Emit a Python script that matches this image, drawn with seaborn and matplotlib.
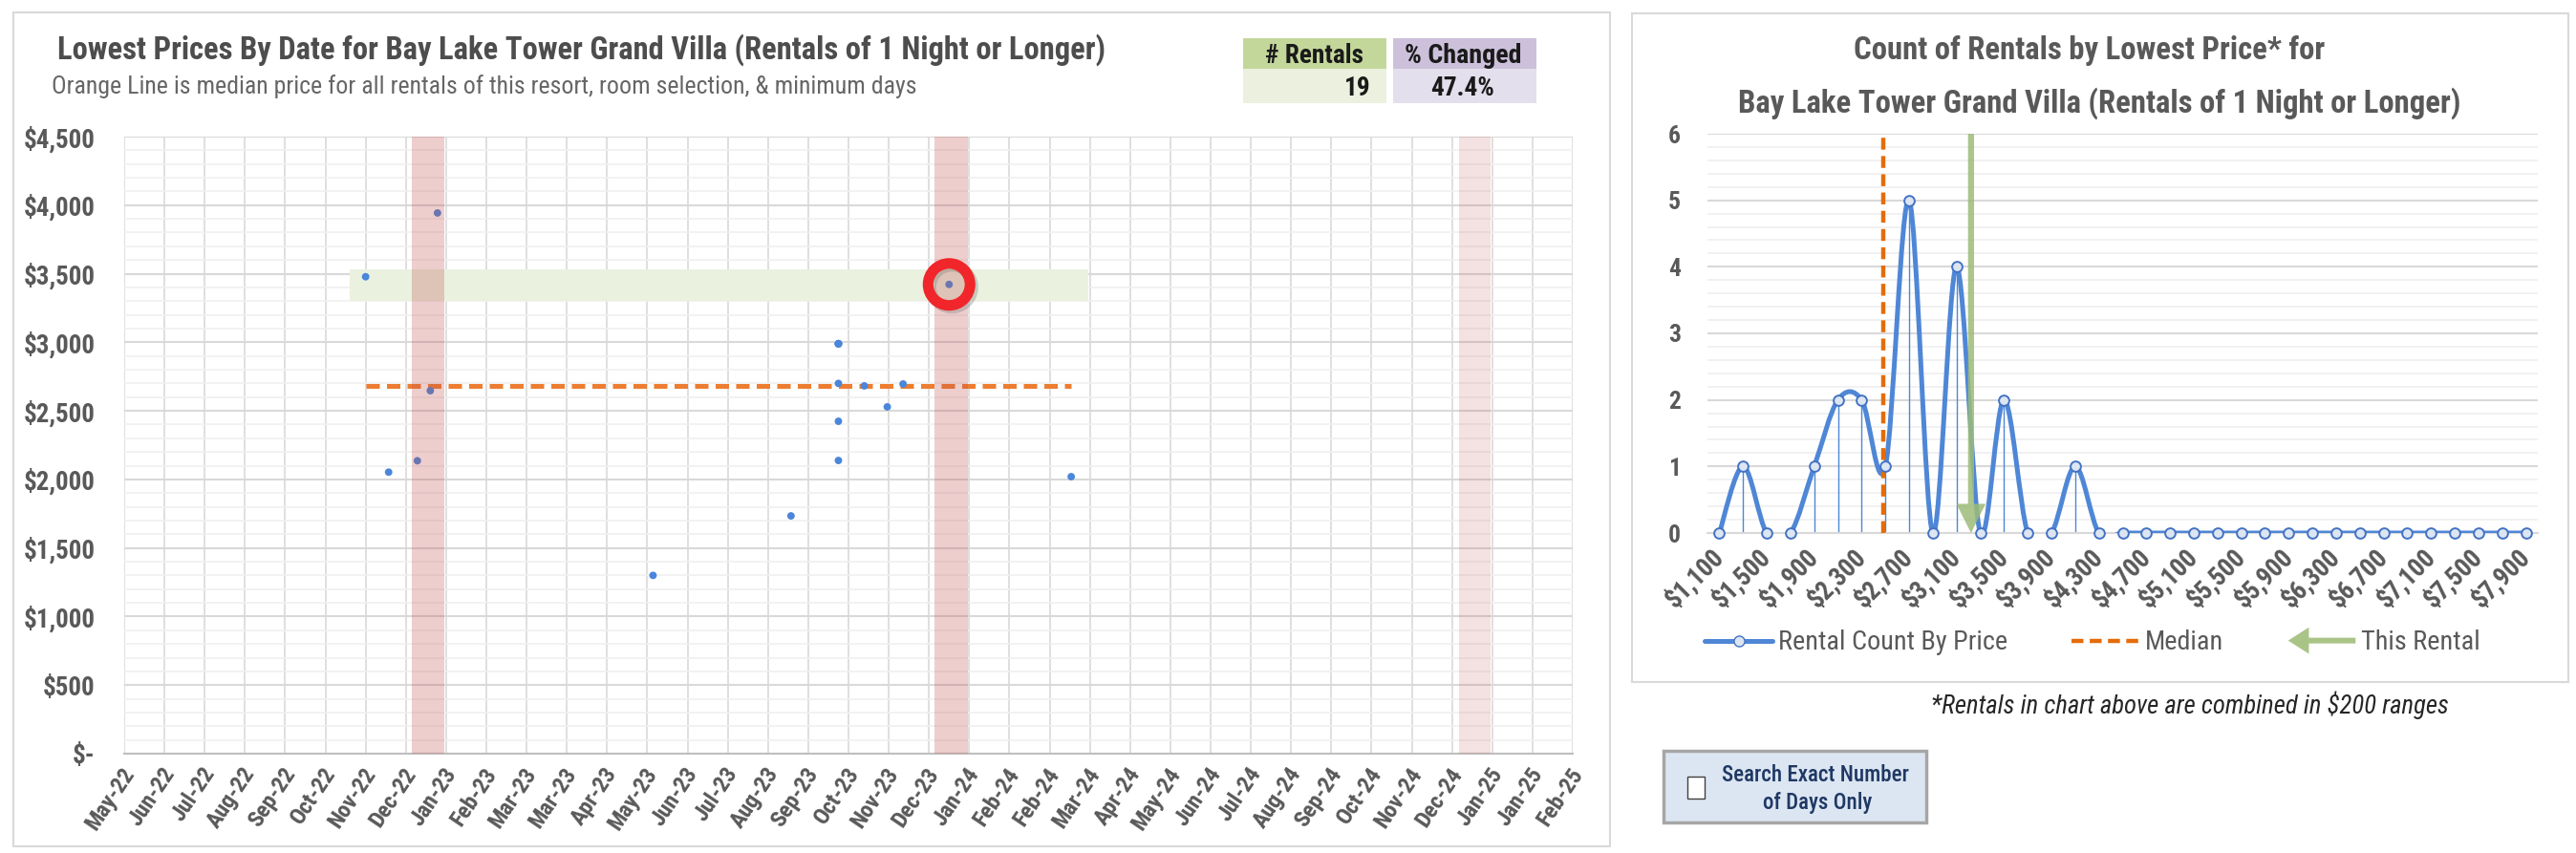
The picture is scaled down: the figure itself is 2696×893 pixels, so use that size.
import numpy as np
import pandas as pd
import seaborn as sns
import matplotlib.pyplot as plt
import matplotlib.patches as mpatches
from matplotlib import font_manager, ticker
from matplotlib.path import Path
from matplotlib.lines import Line2D
from matplotlib.legend_handler import HandlerPatch
from matplotlib.transforms import offset_copy, ScaledTranslation

W, H = 2696, 893

# ---- values ----
rental_dates = ['2022-11-10', '2022-11-26', '2022-12-16', '2022-12-25', '2022-12-30',
                '2023-05-29', '2023-09-02', '2023-10-05', '2023-10-05', '2023-10-05',
                '2023-10-05', '2023-10-05', '2023-10-05', '2023-10-05', '2023-10-23',
                '2023-11-08', '2023-11-19', '2023-12-21', '2024-03-15']
rental_prices = [3478, 2053, 2136, 2647, 3943,
                 1300, 1734, 2988, 2990, 2990,
                 2990, 2700, 2424, 2138, 2682,
                 2529, 2696, 3422, 2020]
this_rental_date = '2023-12-21'
this_rental_price = 3422
pct_changed = '47.4%'
holiday_bands = [('2022-12-12', '2023-01-04'), ('2023-12-11', '2024-01-03'), ('2024-12-10', '2025-01-01')]
holiday_alpha = [0.28, 0.28, 0.17]
axis_start, axis_end = '2022-05-26', '2025-02-27'   # Excel date axis, major unit 28 days
price_bins = list(range(1100, 8000, 200))             # $200 ranges, labelled by upper bound

df = pd.DataFrame({'date': pd.to_datetime(rental_dates), 'price': rental_prices})
counts = [int(((df.price > b - 200) & (df.price <= b)).sum()) for b in price_bins]
median_price = float(np.median(rental_prices))

# ---- style ----
sns.set_theme(style='white')
installed = {f.name for f in font_manager.fontManager.ttflist}
narrow = next((f for f in ['Liberation Sans Narrow', 'Roboto Condensed', 'Open Sans Condensed',
                           'Liberation Sans'] if f in installed), 'DejaVu Sans')
plt.rcParams['font.family'] = [narrow, 'DejaVu Sans']

GRAY = '#595959'
BLUE = '#4F87D6'

fig = plt.figure(figsize=(W / 100, H / 100), dpi=100)
renderer = fig.canvas.get_renderer()


def frect(x0, y0, x1, y1, **kw):
    r = mpatches.Rectangle((x0 / W, 1 - y1 / H), (x1 - x0) / W, (y1 - y0) / H,
                           transform=fig.transFigure, **kw)
    fig.add_artist(r)
    return r


def size_for(s, width, **kw):
    t = fig.text(0, 0, s, fontsize=20, **kw)
    w = t.get_window_extent(renderer).width
    t.remove()
    return 20 * width / w


def fit_text(x, y, s, width, ha='left', size=None, **kw):
    fs = size if size else size_for(s, width, **kw)
    return fig.text(x / W, 1 - y / H, s, ha=ha, va='center', fontsize=fs, **kw)


# panel frames
frect(14, 13, 1685, 886, fill=False, ec='#D9D9D9', lw=1.5)
frect(1708, 14, 2688, 714, fill=False, ec='#D9D9D9', lw=1.5)

# ---------------- left chart ----------------
axL = fig.add_axes([130 / W, 1 - 789 / H, (1646 - 130) / W, (789 - 143) / H])
sns.scatterplot(data=df, x='date', y='price', ax=axL, color='#4A86DA', s=32,
                edgecolor='none', zorder=4, legend=False)

d0, d1 = df.date.min(), df.date.max()
axL.fill_between([d0 - pd.Timedelta(days=11), d1 + pd.Timedelta(days=12)],
                 this_rental_price * 0.965, this_rental_price * 1.032,
                 color='#EAF1DF', lw=0, zorder=1)
axL.hlines(median_price, d0, d1, colors='#ED7D31', linestyles=(0, (2.8, 1.5)), lw=3.6, zorder=3)
for (a, b), al in zip(holiday_bands, holiday_alpha):
    axL.axvspan(pd.Timestamp(a), pd.Timestamp(b), color='#C0504D', alpha=al, lw=0, zorder=5)

tr = pd.Timestamp(this_rental_date)
shadow = offset_copy(axL.transData, fig=fig, x=3, y=-3, units='dots')
axL.scatter([tr], [this_rental_price], s=1000, facecolors='none', edgecolors='#7F7F7F',
            linewidths=8, alpha=0.35, transform=shadow, zorder=6)
axL.scatter([tr], [this_rental_price], s=1000, facecolors='none', edgecolors='#F0262A',
            linewidths=8, zorder=7)

ticks = pd.date_range(axis_start, axis_end, freq='28D')
axL.set_xticks(ticks)
axL.set_xticklabels([d.strftime('%b-%y') for d in ticks])
axL.set_xlim(ticks[0], ticks[-1])
axL.set_ylim(0, 4500)
axL.yaxis.set_major_locator(ticker.MultipleLocator(500))
axL.yaxis.set_minor_locator(ticker.MultipleLocator(100))
axL.yaxis.set_major_formatter(ticker.FuncFormatter(lambda v, p: '$-' if v == 0 else f'${v:,.0f}'))
axL.grid(axis='x', which='major', color='#D9D9D9', lw=1.2, zorder=0)
axL.grid(axis='y', which='major', color='#D9D9D9', lw=1.5, zorder=0)
axL.grid(axis='y', which='minor', color='#F0F0F0', lw=1.2, zorder=0)
axL.set_axisbelow(True)
for s in ['top', 'right', 'left']:
    axL.spines[s].set_visible(False)
axL.spines['bottom'].set_color('#BFBFBF')
axL.spines['bottom'].set_linewidth(1.5)
axL.tick_params(axis='y', which='both', length=0, pad=22,
                labelsize=size_for('$4,500', 75, weight='bold'), labelcolor=GRAY)
axL.tick_params(axis='x', which='both', length=0, pad=12,
                labelsize=size_for('Sep-22', 69, weight='bold'), labelcolor=GRAY)
nudge = ScaledTranslation(6 / 100, 0, fig.dpi_scale_trans)
for lab in axL.get_xticklabels():
    lab.set_rotation(56)
    lab.set_ha('right')
    lab.set_rotation_mode('anchor')
    lab.set_va('center')
    lab.set_fontweight('bold')
    lab.set_transform(lab.get_transform() + nudge)
for lab in axL.get_yticklabels():
    lab.set_fontweight('bold')
axL.set_xlabel('')
axL.set_ylabel('')

fit_text(60, 52, 'Lowest Prices By Date for Bay Lake Tower Grand Villa (Rentals of 1 Night or Longer)',
         1097, weight='bold', color='#4D4D4D')
fit_text(54, 91, 'Orange Line is median price for all rentals of this resort, room selection, & minimum days',
         905, color='#666666')

# summary table
frect(1301, 40, 1451, 72, color='#C4D79B', lw=0)
frect(1458, 40, 1608, 72, color='#CCC0DA', lw=0)
frect(1301, 72, 1451, 108, color='#EBF1DE', lw=0)
frect(1458, 72, 1608, 108, color='#E4DFEC', lw=0)
fit_text(1376, 58, '# Rentals', 103, ha='center', weight='bold', color='#1A1A1A')
fit_text(1531, 58, '% Changed', 122, ha='center', weight='bold', color='#1A1A1A')
val = fit_text(1531, 92, pct_changed, 67, ha='center', weight='bold', color='#1A1A1A')
fit_text(1435, 92, str(len(rental_prices)), 0, ha='right', size=val.get_fontsize(),
         weight='bold', color='#1A1A1A')

# ---------------- right chart ----------------
axR = fig.add_axes([1787 / W, 1 - 558 / H, (2656 - 1787) / W, (558 - 140) / H])


def smooth_path(xs, ys):
    # Excel-style smoothed line: Catmull-Rom segments as cubic Beziers
    pts = np.column_stack([xs, ys]).astype(float)
    n = len(pts)
    verts, codes = [pts[0]], [Path.MOVETO]
    for i in range(n - 1):
        p0 = pts[i - 1] if i > 0 else pts[i]
        p1, p2 = pts[i], pts[i + 1]
        p3 = pts[i + 2] if i + 2 < n else pts[i + 1]
        verts += [p1 + (p2 - p0) / 6, p2 - (p3 - p1) / 6, p2]
        codes += [Path.CURVE4] * 3
    return Path(verts, codes)


axR.add_patch(mpatches.PathPatch(smooth_path(price_bins, counts), fc='none', ec=BLUE, lw=3.6,
                                 capstyle='round', joinstyle='round', zorder=3))
axR.vlines(price_bins, 0, counts, colors=BLUE, lw=1, zorder=2)
sns.scatterplot(x=price_bins, y=counts, ax=axR, s=60, color='#DCE6F2', edgecolor='#4472C4',
                linewidth=1.4, zorder=6, clip_on=False, legend=False)

# Excel draws the median / this-rental markers one $200 bin to the left
axR.axvline(median_price - 200, color='#E46C0A', ls=(0, (2.8, 1.5)), lw=3.2, zorder=4)
x_tr = this_rental_price - 200
axR.add_patch(mpatches.FancyArrowPatch((x_tr, 6), (x_tr, 0),
                                       arrowstyle='simple,head_width=22,head_length=22,tail_width=4.5',
                                       mutation_scale=1, shrinkA=0, shrinkB=0,
                                       color='#9CBB78', alpha=0.85, lw=0, zorder=5))

axR.set_xlim(1000, 8000)
axR.set_ylim(0, 6)
axR.set_xticks(price_bins[::2])
axR.set_xticklabels([f'${b:,}' for b in price_bins[::2]])
edges = [b - 100 for b in price_bins] + [price_bins[-1] + 100]
axR.xaxis.set_minor_locator(ticker.FixedLocator(edges))
axR.yaxis.set_major_locator(ticker.MultipleLocator(1))
axR.yaxis.set_minor_locator(ticker.MultipleLocator(0.2))
axR.grid(axis='y', which='major', color='#D9D9D9', lw=1.5, zorder=0)
axR.grid(axis='y', which='minor', color='#EFEFEF', lw=1.2, zorder=0)
axR.set_axisbelow(True)
for s in ['top', 'right', 'left']:
    axR.spines[s].set_visible(False)
axR.spines['bottom'].set_color('#D9D9D9')
axR.spines['bottom'].set_linewidth(1.5)
axR.tick_params(axis='x', which='major', length=0, pad=15,
                labelsize=size_for('$1,100', 74, weight='bold'), labelcolor=GRAY)
axR.tick_params(axis='x', which='minor', length=10, width=1.2, direction='inout', color='#D0D0D0')
axR.tick_params(axis='y', which='both', length=0, pad=20,
                labelsize=size_for('6', 13, weight='bold'), labelcolor=GRAY)
for lab in axR.get_xticklabels():
    lab.set_rotation(45)
    lab.set_ha('right')
    lab.set_rotation_mode('anchor')
    lab.set_va('center')
    lab.set_fontweight('bold')
for lab in axR.get_yticklabels():
    lab.set_fontweight('bold')

fit_text(2187, 53, 'Count of Rentals by Lowest Price* for', 493, ha='center', weight='bold', color=GRAY)
fit_text(2197, 108, 'Bay Lake Tower Grand Villa (Rentals of 1 Night or Longer)', 756, ha='center',
         weight='bold', color=GRAY)


class ArrowHandler(HandlerPatch):
    def create_artists(self, legend, orig_handle, xdescent, ydescent, width, height, fontsize, trans):
        arr = mpatches.FancyArrow(width, 0.5 * height, -width, 0, width=height * 0.3,
                                  head_width=height * 1.4, head_length=height * 1.1,
                                  length_includes_head=True, color='#A9C486', lw=0)
        arr.set_transform(trans)
        return [arr]


arrow_handle = mpatches.Patch(color='#A9C486')
handles = [Line2D([0], [0], color=BLUE, lw=3.6, marker='o', markersize=8,
                  markerfacecolor='#DCE6F2', markeredgecolor='#4472C4'),
           Line2D([0], [0], color='#E46C0A', lw=3.2, ls=(0, (2.8, 1.5))),
           arrow_handle]
leg_fs = size_for('Rental Count By Price', 239)
fig.legend(handles, ['Rental Count By Price', 'Median', 'This Rental'],
           handler_map={arrow_handle: ArrowHandler()},
           loc='center', bbox_to_anchor=(2190 / W, 1 - 673 / H), ncol=3, frameon=False,
           fontsize=leg_fs, labelcolor=GRAY, handlelength=2.5, handletextpad=0.2, columnspacing=2.4)

fit_text(2292, 738, '*Rentals in chart above are combined in $200 ranges', 542, ha='center',
         style='italic', color='#262626')

# checkbox control
frect(1741, 786, 2016, 861, fc='#DCE6F2', ec='#A6A6A6', lw=2.5)
frect(1766, 813, 1784, 836, fc='white', ec='#404040', lw=1)
fit_text(1900, 811, 'Search Exact Number', 197, ha='center', color='#1F3864', weight='medium')
fit_text(1902, 840, 'of Days Only', 114, ha='center', color='#1F3864', weight='medium')

fig.savefig('out.png', dpi=100)
